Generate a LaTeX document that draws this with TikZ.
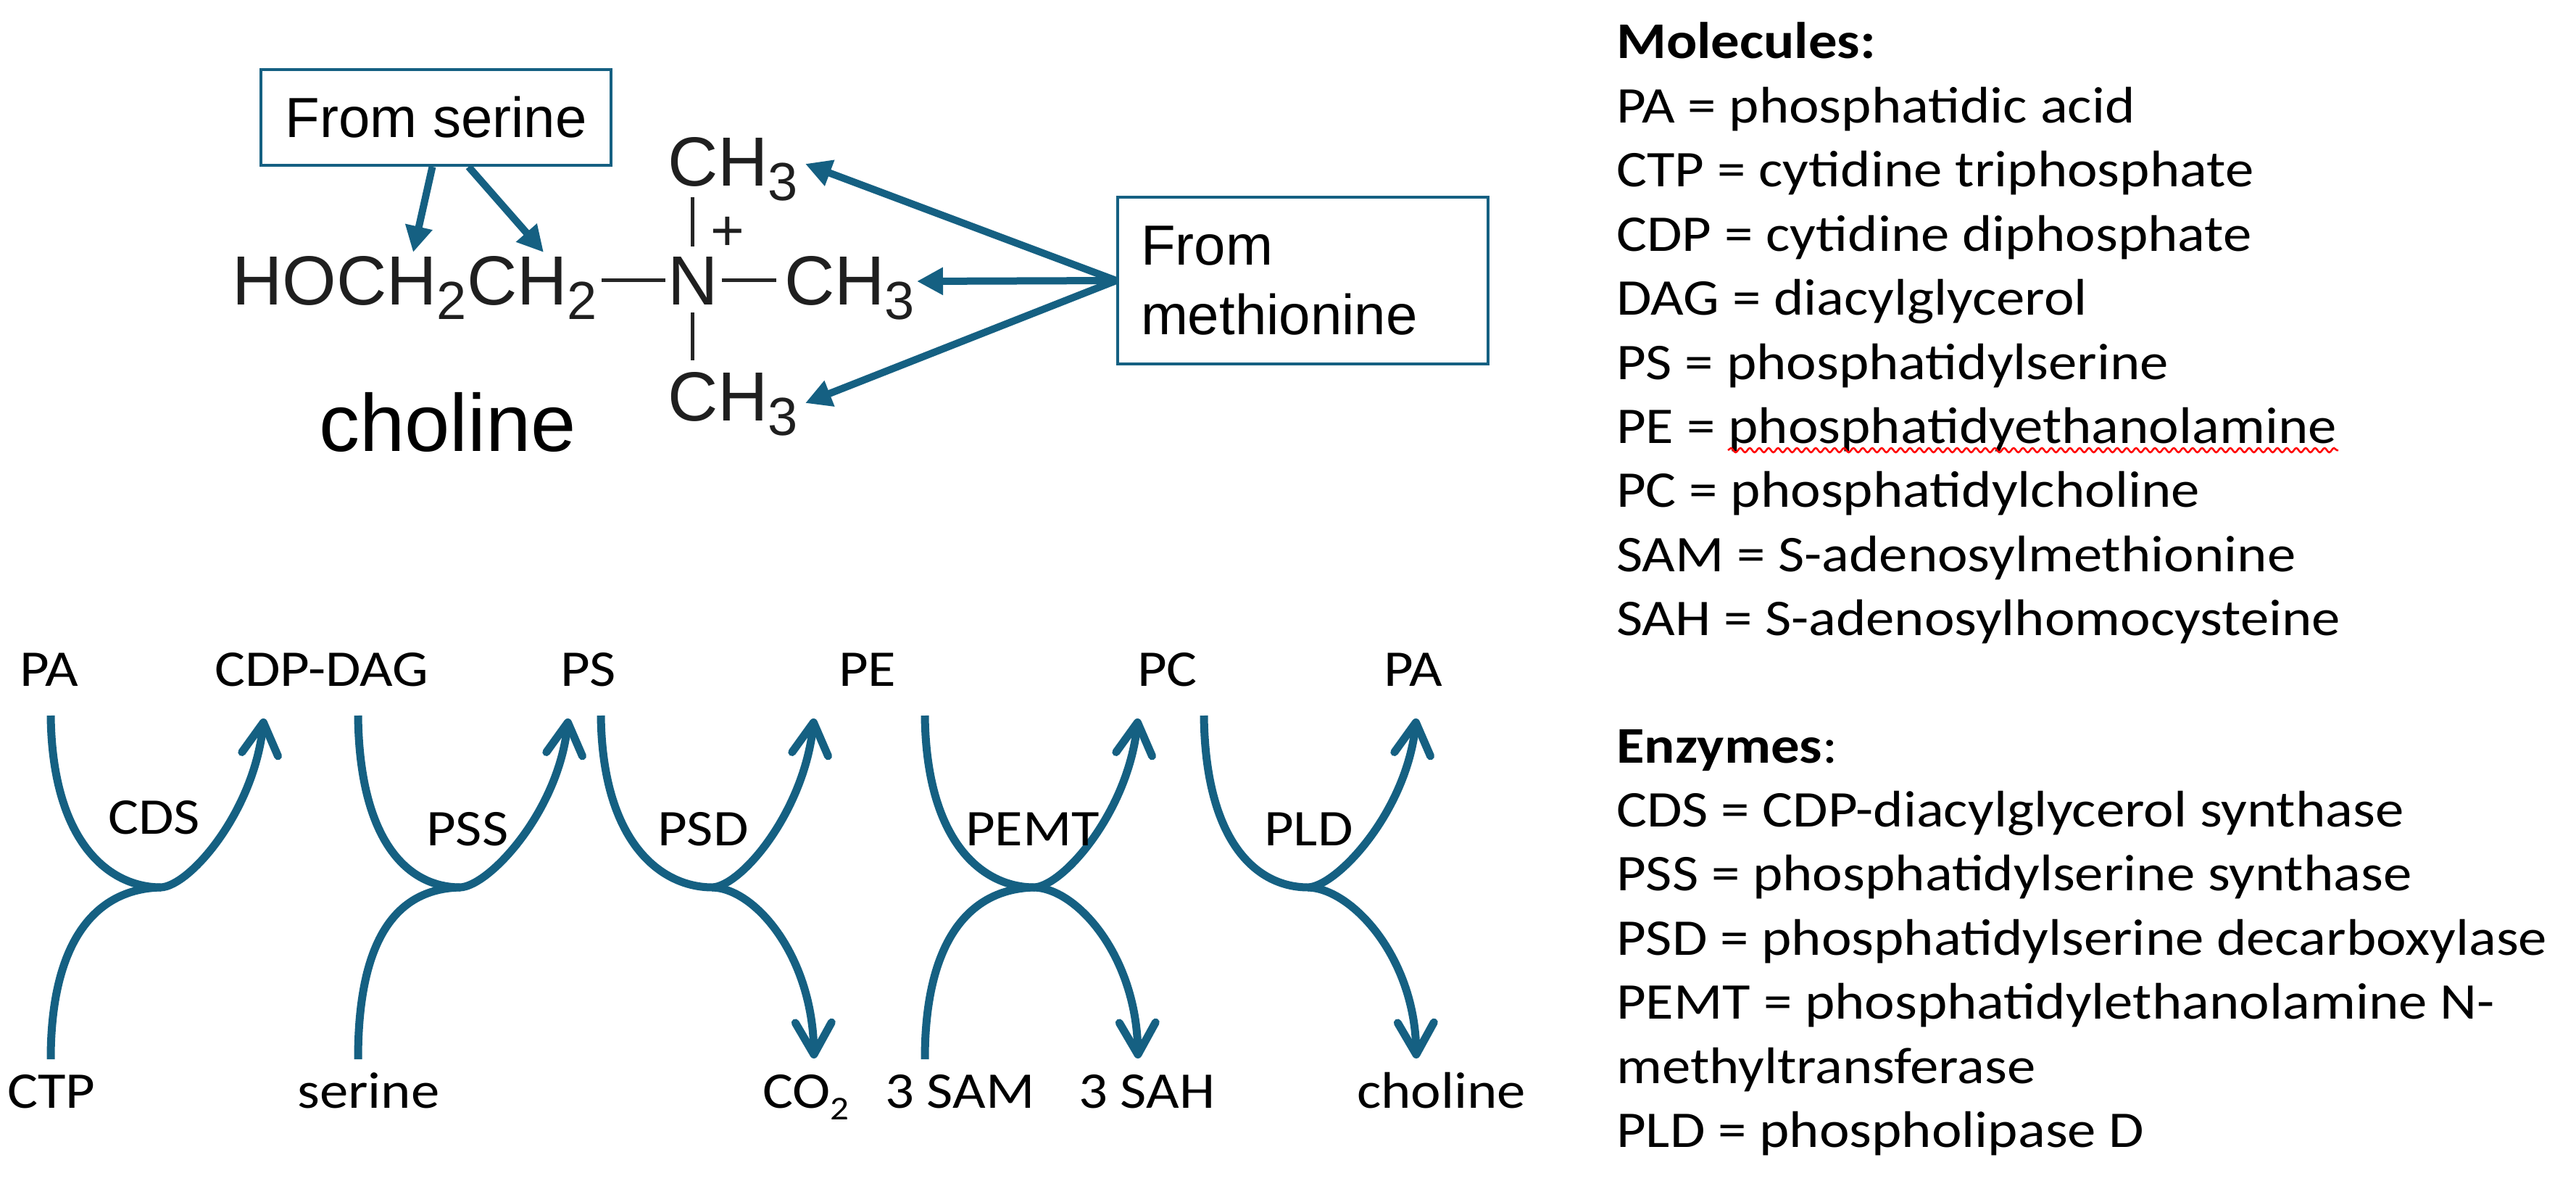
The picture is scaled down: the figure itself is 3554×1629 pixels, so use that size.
\documentclass[tikz,border=0pt]{standalone}
\usepackage{fontspec}
\setmainfont{Carlito}[FakeStretch=1.11]
\newfontfamily\chemf{Liberation Sans}
\usetikzlibrary{arrows.meta,decorations.pathmorphing,calc}
\definecolor{accent}{HTML}{156082}
\newcommand{\aptos}{\fontsize{71}{85}\selectfont}
\newcommand{\chemsub}[1]{\raisebox{-20pt}{\fontsize{74}{74}\selectfont #1}}
\newcommand{\lblsub}[1]{\raisebox{-16pt}{\fontsize{46}{46}\selectfont #1}}
\begin{document}
\begin{tikzpicture}[x=1pt,y=-1pt,
  txt/.style={anchor=base west, inner sep=0pt, font=\aptos, text=black},
  chem/.style={anchor=base west, inner sep=0pt, font=\chemf\fontsize{96}{96}\selectfont, text=black!88},
  box/.style={draw=accent, line width=4pt, fill=white, font=\chemf\fontsize{78}{96}\selectfont},
  bond/.style={line width=5pt, draw=black!85},
  marrow/.style={draw=accent, line width=10pt, -{Triangle[length=36pt,width=36pt]}},
  rxn/.style={draw=accent, line width=11pt},
  rxnarr/.style={rxn, -{Straight Barb[length=44pt,width=50pt,round]}},
  wavy/.style={draw=red, line width=2.5pt, decorate, decoration={snake, segment length=13pt, amplitude=3pt}}
]
\useasboundingbox[fill=white] (0,0) rectangle (3554,1629);

% ---------- choline structure ----------
\node[box, minimum width=483pt, minimum height=132pt, inner sep=0pt] (ser) at (601.5,162) {From serine};
\node[box, align=left, text width=447pt, inner xsep=32pt, inner ysep=0pt, minimum height=230pt] (meth) at (1797.5,387) {From\\methionine};

\node[chem] (chain) at (320,420) {HOCH\chemsub{2}CH\chemsub{2}};
\node[chem] (N) at (921,420) {N};
\node[chem] (ch3m) at (1082,420) {CH\chemsub{3}};
\node[chem] (ch3t) at (921,257) {CH\chemsub{3}};
\node[chem] (ch3b) at (921,580) {CH\chemsub{3}};
\node[inner sep=0pt, font=\chemf\fontsize{80}{80}\selectfont, text=black!88] (plus) at (1004,322) {+};
\node[anchor=base west, inner sep=0pt, font=\chemf\fontsize{112}{112}\selectfont, text=black] (cho) at (440,622) {choline};

\draw[bond, shorten <=6pt, shorten >=3pt] (chain.east |- N.west) -- (N.west);
\draw[bond, shorten <=5pt, shorten >=11pt] (N.east) -- (ch3m.west |- N.east);
\draw[bond, shorten <=14pt, shorten >=15pt] (N.north) -- (N.north |- ch3t.base);
\draw[bond, shorten <=11pt, shorten >=16pt] (N.south) -- (N.south |- ch3b.north);

\coordinate (tipA) at (570,348);
\coordinate (tipB) at (750,348);
\coordinate (tipT) at (1111,226);
\coordinate (tipM) at (1265,388);
\coordinate (tipD) at (1111,556);
\draw[marrow] ([xshift=-5pt]ser.south) -- (tipA);
\draw[marrow] ([xshift=45pt]ser.south) -- (tipB);
\draw[marrow] (meth.west) -- (tipT);
\draw[marrow] (meth.west) -- (tipM);
\draw[marrow] (meth.west) -- (tipD);

% ---------- pathway ----------
\foreach \L/\J/\R/\n in {70/222/364/1, 494/635/784/2, 829/983/1123/3, 1276/1427/1570/4, 1661/1805/1954/5}{
  \coordinate (a\n) at (\L,987);
  \coordinate (j\n) at (\J,1224);
  \coordinate (b\n) at (\R,991);
  \coordinate (c\n) at (\L,1461);
  \coordinate (d\n) at (\R,1460);
  \draw[rxnarr] (a\n) .. controls ($(a\n)+(2,174)$) and ($(j\n)+(-72,0)$) .. (j\n)
                      .. controls ($(j\n)+(40,-2)$) and ($(b\n)+(-14,129)$) .. (b\n);
}
% lower branches
\draw[rxn] (c1) .. controls ($(c1)+(0,-160)$) and ($(j1)+(-92,2)$) .. (j1);
\draw[rxn] (c2) .. controls ($(c2)+(0,-160)$) and ($(j2)+(-92,2)$) .. (j2);
\draw[rxnarr] (j3) .. controls ($(j3)+(60,2)$) and ($(d3)+(-2,-140)$) .. (d3);
\draw[rxn] (c4) .. controls ($(c4)+(0,-160)$) and ($(j4)+(-92,2)$) .. (j4);
\draw[rxnarr] (j4) .. controls ($(j4)+(60,2)$) and ($(d4)+(-2,-140)$) .. (d4);
\draw[rxnarr] (j5) .. controls ($(j5)+(60,2)$) and ($(d5)+(-2,-140)$) .. (d5);

\node[txt] (pa1) at (27,946) {PA};
\node[txt] (cdpdag) at (296,946) {CDP-DAG};
\node[txt] (ps) at (773,946) {PS};
\node[txt] (pe) at (1157,946) {PE};
\node[txt] (pc) at (1569,946) {PC};
\node[txt] (pa2) at (1909,946) {PA};
\node[txt] (cds) at (149,1150) {CDS};
\node[txt] (pss) at (588,1166) {PSS};
\node[txt] (psd) at (907,1166) {PSD};
\node[txt] (pemt) at (1332,1166) {PEMT};
\node[txt] (pld) at (1744,1166) {PLD};
\node[txt] (ctp) at (10,1528) {CTP};
\node[txt] (serine) at (410,1528) {serine};
\node[txt] (co2) at (1052,1528) {CO\lblsub{2}};
\node[txt] (sam) at (1221,1528) {3 SAM};
\node[txt] (sah) at (1488,1528) {3 SAH};
\node[txt] (cho2) at (1872,1528) {choline};

% ---------- legend ----------
\node[txt] (l0) at (2230,81) {\textbf{Molecules:}};
\node[txt] (l1) at (2230,169.4) {PA = phosphatidic acid};
\node[txt] (l2) at (2230,257.8) {CTP = cytidine triphosphate};
\node[txt] (l3) at (2230,346.2) {CDP = cytidine diphosphate};
\node[txt] (l4) at (2230,434.6) {DAG = diacylglycerol};
\node[txt] (l5) at (2230,523) {PS = phosphatidylserine};
\node[txt] (l6) at (2230,611.4) {PE = phosphatidyethanolamine};
\node[txt] (l7) at (2230,699.8) {PC = phosphatidylcholine};
\node[txt] (l8) at (2230,788.2) {SAM = S-adenosylmethionine};
\node[txt] (l9) at (2230,876.6) {SAH = S-adenosylhomocysteine};
\node[txt] (e0) at (2230,1052) {\textbf{Enzymes}:};
\node[txt] (e1) at (2230,1140.4) {CDS = CDP-diacylglycerol synthase};
\node[txt] (e2) at (2230,1228.8) {PSS = phosphatidylserine synthase};
\node[txt] (e3) at (2230,1317.2) {PSD = phosphatidylserine decarboxylase};
\node[txt] (e4) at (2230,1405.6) {PEMT = phosphatidylethanolamine N-};
\node[txt] (e5) at (2230,1494) {methyltransferase};
\node[txt] (e6) at (2230,1582.4) {PLD = phospholipase D};
\coordinate (w1) at (2384,621);
\coordinate (w2) at (3226,621);
\draw[wavy] (w1) -- (w2);
\end{tikzpicture}
\end{document}
